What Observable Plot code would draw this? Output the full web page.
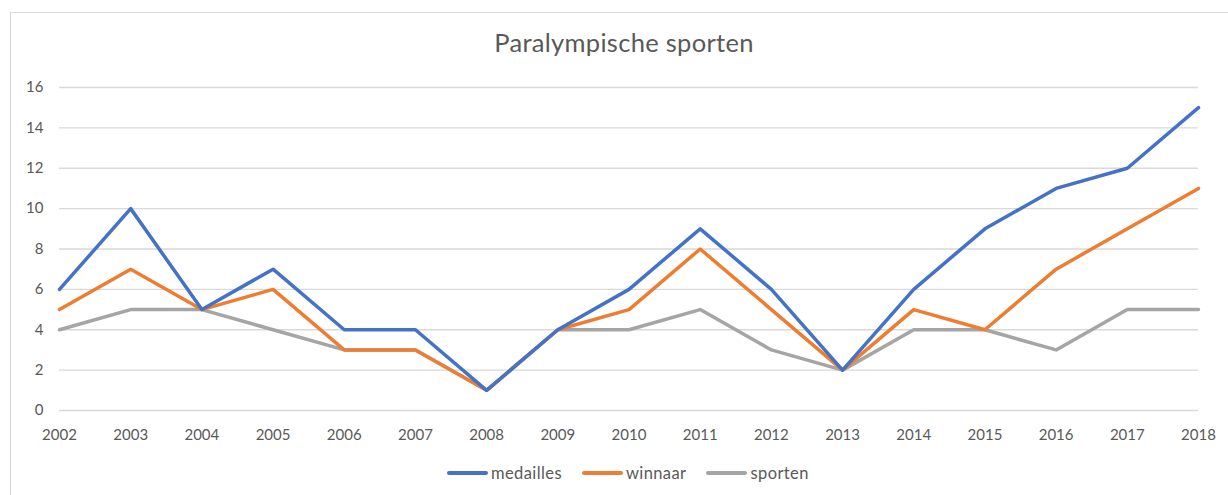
<!DOCTYPE html>
<html>
<head>
<meta charset="utf-8">
<script src="https://cdn.jsdelivr.net/npm/d3@7"></script>
<script src="https://cdn.jsdelivr.net/npm/@observablehq/plot@0.6"></script>
<style>
  body { margin: 0; background: #fff; font-family: Lato, "Open Sans", sans-serif; }
  #wrap { position: relative; width: 1228px; height: 495px; overflow: hidden; }
  #frame { position: absolute; left: 10px; top: 12px; width: 1240px; height: 500px; border: 1px solid #d9d9d9; box-sizing: border-box; }
  #title { position: absolute; left: 10px; width: 1228px; top: 27px; text-align: center; font-size: 25.5px; color: #595959; letter-spacing: 0.3px; }
  #chart { position: absolute; left: 0; top: 0; }
  #legend { position: absolute; left: 447px; top: 463px; display: flex; align-items: center; font-size: 16.5px; color: #595959; letter-spacing: 0.4px; }
  .item { display: flex; align-items: center; margin-right: 20px; }
  .sw { width: 41px; height: 4px; border-radius: 2px; margin-right: 3px; }
</style>
</head>
<body>
<div id="wrap">
  <div id="frame"></div>
  <div id="title">Paralympische sporten</div>
  <div id="chart"></div>
  <div id="legend"></div>
</div>
<script>
const years = [2002,2003,2004,2005,2006,2007,2008,2009,2010,2011,2012,2013,2014,2015,2016,2017,2018];
const medailles = [6,10,5,7,4,4,1,4,6,9,6,2,6,9,11,12,15];
const winnaar   = [5,7,5,6,3,3,1,4,5,8,5,2,5,4,7,9,11];
const sporten   = [4,5,5,4,3,3,1,4,4,5,3,2,4,4,3,5,5];
const seriesNames = ["medailles","winnaar","sporten"];
const seriesColors = ["#4472C4","#ED7D31","#A5A5A5"];
const yTicks = [0,2,4,6,8,10,12,14,16];

const seriesValues = [medailles, winnaar, sporten];
const rows = [];
seriesNames.forEach((name, i) => {
  years.forEach((yr, j) => rows.push({year: yr, value: seriesValues[i][j], series: name}));
});

const plot = Plot.plot({
  width: 1228,
  height: 450,
  marginTop: 87,
  marginBottom: 40,
  marginLeft: 59,
  marginRight: 30,
  style: { fontFamily: "Lato, 'Open Sans', sans-serif", fontSize: "15px", color: "#595959", background: "transparent" },
  x: { type: "linear", domain: [2002, 2018], ticks: years, tickFormat: d => String(d), tickSize: 0, tickPadding: 19, label: null },
  y: { domain: [0, 16], ticks: yTicks, tickSize: 0, tickPadding: 16, label: null },
  color: { domain: seriesNames, range: seriesColors },
  marks: [
    Plot.ruleY(yTicks, { stroke: "#d9d9d9", strokeWidth: 1.3 }),
    Plot.line(rows, { x: "year", y: "value", z: "series", stroke: "series", strokeWidth: 3.5, strokeLinejoin: "round", strokeLinecap: "round", reverse: true })
  ]
});
document.getElementById("chart").appendChild(plot);

const legend = document.getElementById("legend");
seriesNames.forEach((name, i) => {
  const it = document.createElement("div");
  it.className = "item";
  const sw = document.createElement("div");
  sw.className = "sw";
  sw.style.background = seriesColors[i];
  const t = document.createElement("span");
  t.textContent = name;
  it.appendChild(sw); it.appendChild(t);
  legend.appendChild(it);
});
</script>
</body>
</html>
